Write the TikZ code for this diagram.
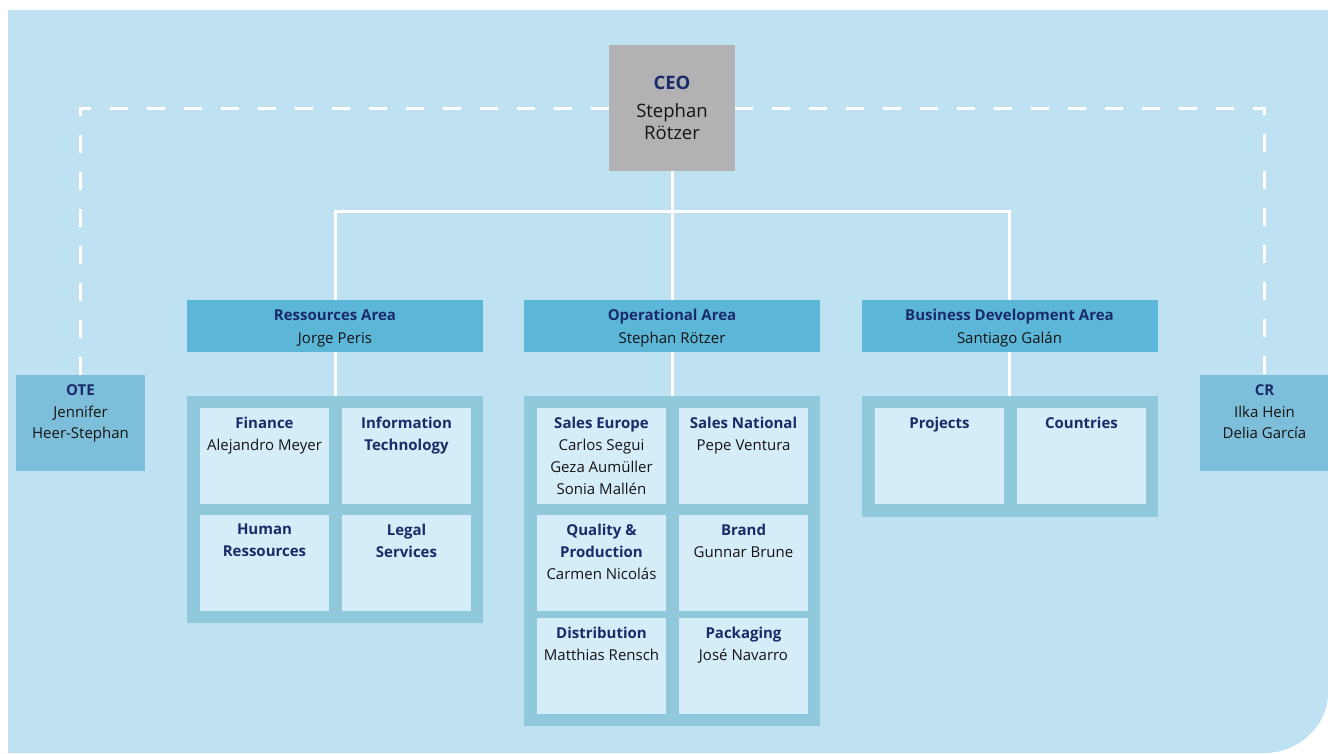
\documentclass[tikz,border=0pt]{standalone}
\usepackage{fontspec}
\setmainfont{Open Sans}
\usetikzlibrary{backgrounds}

\definecolor{bgblue}{HTML}{BEE2F1}
\definecolor{areablue}{HTML}{5BB6D8}
\definecolor{boxblue}{HTML}{90C8DC}
\definecolor{unitblue}{HTML}{D5ECF9}
\definecolor{staffblue}{HTML}{7DBFDA}
\definecolor{ceogray}{HTML}{B2B2B4}
\definecolor{navy}{HTML}{1A2B68}
\definecolor{ink}{HTML}{141414}

\newcommand{\ttl}[1]{{\bfseries\color{navy}#1}}

\begin{document}
\begin{tikzpicture}[x=1pt,y=-1pt,
    every node/.style={inner sep=0pt, outer sep=0pt, text=ink},
    ceo/.style={fill=ceogray, minimum width=126pt, minimum height=126pt,
      align=center, font=\fontsize{18.5}{22}\selectfont},
    area/.style={fill=areablue, minimum width=296pt, minimum height=52pt},
    areatext/.style={align=center, yshift=-2.5pt, font=\fontsize{15}{23}\selectfont},
    areabox/.style={fill=boxblue, minimum width=296pt},
    unit/.style={fill=unitblue, minimum width=129pt, minimum height=96pt},
    staff/.style={fill=staffblue, minimum width=129pt, minimum height=96pt},
    unittext/.style={anchor=north, align=center, yshift=-9.5pt,
      font=\fontsize{15}{21.8}\selectfont},
    link/.style={white, line width=3pt},
    staffline/.style={white, line width=3pt, dash pattern=on 18pt off 19pt}]
  \useasboundingbox (0,0) rectangle (1328,753);

  % top
  \node[ceo] (ceo) at (672,108) {\ttl{CEO}\\[6pt]Stephan\\Rötzer};

  % areas
  \node[area] (ras) at (335,326) {};
  \node[areatext] (ras-t) at (ras) {\ttl{Ressources Area}\\Jorge Peris};
  \node[area] (opa) at (672,326) {};
  \node[areatext] (opa-t) at (opa) {\ttl{Operational Area}\\Stephan Rötzer};
  \node[area] (bda) at (1009.5,326) {};
  \node[areatext] (bda-t) at (bda) {\ttl{Business Development Area}\\Santiago Galán};

  \node[areabox, minimum height=227pt] (rasbox) at (335,509.5) {};
  \node[areabox, minimum height=330pt] (opabox) at (672,561) {};
  \node[areabox, minimum height=121pt] (bdabox) at (1010,456.5) {};

  % units
  \foreach \nm/\x/\y/\txt in {
      fin/264.5/456/{\ttl{Finance}\\Alejandro Meyer},
      it/406.5/456/{\ttl{Information}\\\ttl{Technology}},
      hr/264.5/562.5/{\ttl{Human}\\\ttl{Ressources}},
      legal/406.5/562.5/{\ttl{Legal}\\\ttl{Services}},
      seu/601.5/456/{\ttl{Sales Europe}\\Carlos Segui\\Geza Aumüller\\Sonia Mallén},
      snat/743.5/456/{\ttl{Sales National}\\Pepe Ventura},
      qp/601.5/562.5/{\ttl{Quality \&}\\\ttl{Production}\\Carmen Nicolás},
      brand/743.5/562.5/{\ttl{Brand}\\Gunnar Brune},
      dist/601.5/665.5/{\ttl{Distribution}\\Matthias Rensch},
      pack/743.5/665.5/{\ttl{Packaging}\\José Navarro},
      proj/939.5/456/{\ttl{Projects}},
      ctry/1081.5/456/{\ttl{Countries}}}{
    \node[unit] (\nm) at (\x,\y) {};
    \node[unittext] (\nm-t) at (\nm.north) {\txt};
  }

  % staff
  \node[staff] (ote) at (80.5,423) {};
  \node[unittext] (ote-t) at (ote.north) {\ttl{OTE}\\Jennifer\\Heer-Stephan};
  \node[staff] (cr) at (1264.5,423) {};
  \node[unittext] (cr-t) at (cr.north) {\ttl{CR}\\Ilka Hein\\Delia García};

  \begin{scope}[on background layer]
    \fill[bgblue] (8,10) -- (1328,10) -- (1328,693)
      .. controls (1328,726) and (1298,753) .. (1265,753) -- (8,753) -- cycle;
    \draw[link] (ceo.south) -- ++(0,40) coordinate (hub);
    \draw[link] (ras.north) |- (hub) -| (bda.north);
    \draw[link] (hub) -- (opa.north);
    \draw[link] (ras.south) -- (rasbox.north);
    \draw[link] (opa.south) -- (opabox.north);
    \draw[link] (bda.south) -- (bda.south |- bdabox.north);
    \draw[staffline] (ote.north) |- (ceo.west);
    \draw[staffline] (ceo.east) -| (cr.north);
  \end{scope}
\end{tikzpicture}
\end{document}
